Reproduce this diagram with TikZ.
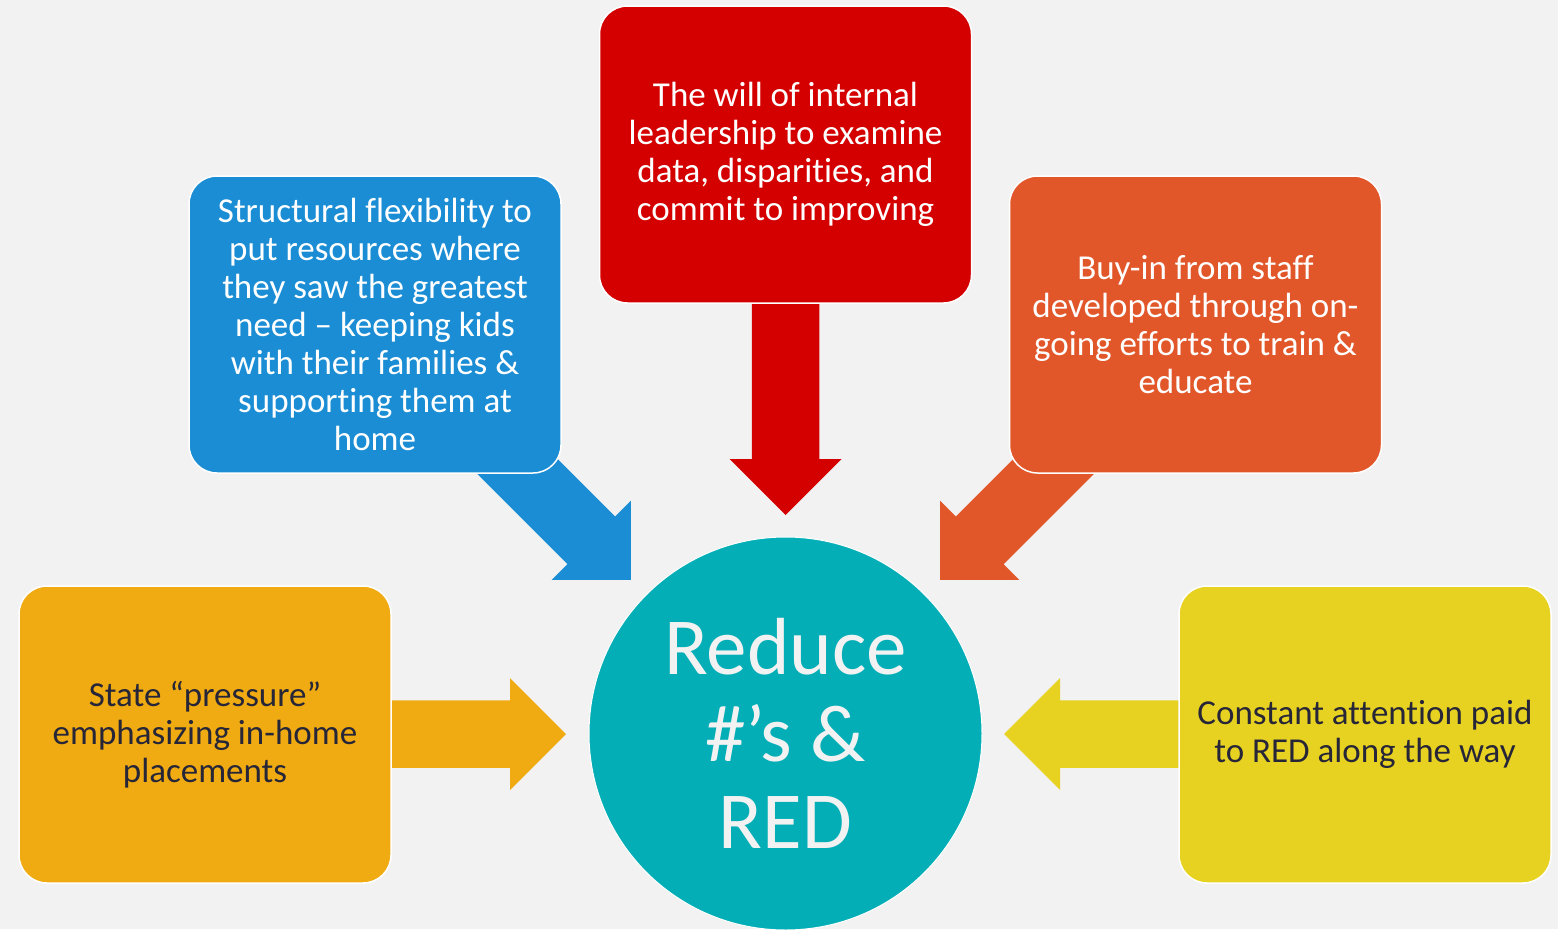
\documentclass[tikz,border=0pt]{standalone}
\usepackage{fontspec}
\setmainfont[Ligatures={NoCommon}]{Carlito}
\definecolor{bg}{HTML}{F2F2F2}
\definecolor{cred}{HTML}{D40000}
\definecolor{cblue}{HTML}{1B8DD4}
\definecolor{corange}{HTML}{E2572A}
\definecolor{cgold}{HTML}{F0AB12}
\definecolor{cyellow}{HTML}{E8D221}
\definecolor{cteal}{HTML}{03AEB6}
\definecolor{ctext}{HTML}{262638}
\begin{document}
\begin{tikzpicture}[x=1pt,y=-1pt,
  box/.style={rectangle, rounded corners=28pt, minimum width=372pt, minimum height=297pt,
    draw=white, line width=1.5pt, align=center, inner sep=0pt,
    font=\fontsize{35}{38}\selectfont, text=white},
  hub/.style={circle, minimum size=393pt, fill=cteal, draw=white, line width=1pt, inner sep=0pt,
    align=center, text=bg, font=\fontsize{81}{87}\selectfont},
  pics/blockarrow/.style={code={
    \fill (0,-33.75) -- ({#1-56},-33.75) -- ({#1-56},-56) -- (#1,0) -- ({#1-56},56) -- ({#1-56},33.75) -- (0,33.75) -- cycle;}}
]
\useasboundingbox (0,0) rectangle (1558,929);
\fill[bg] (0,0) rectangle (1558,929);

% arrows (drawn first, boxes overlay their tails)
\coordinate (tA) at (785.5,296);
\coordinate (tB) at (481,430);
\coordinate (tC) at (1090,430);
\coordinate (tD) at (385,734);
\coordinate (tE) at (1186,734);
\pic[rotate=-90, fill=cred] at (tA) {blockarrow=219};
\pic[rotate=-45, fill=cblue] at (tB) {blockarrow=212};
\pic[rotate=-135, fill=corange] at (tC) {blockarrow=212};
\pic[fill=cgold] at (tD) {blockarrow=181};
\pic[rotate=180, fill=cyellow] at (tE) {blockarrow=182};

\node[box, fill=cred] (top) at (785.5,154.5) {The will of internal\\leadership to examine\\data, disparities, and\\commit to improving};
\node[box, fill=cblue] (struct) at (375,324.5) {Structural flexibility to\\put resources where\\they saw the greatest\\need -- keeping kids\\with their families \&\\supporting them at\\home};
\node[box, fill=corange] (buyin) at (1195.5,324.5) {Buy-in from staff\\developed through on-\\going efforts to train \&\\educate};
\node[box, fill=cgold, text=ctext] (state) at (205,734.5) {State “pressure”\\emphasizing in-home\\placements};
\node[box, fill=cyellow, text=ctext] (const) at (1365,734.5) {Constant attention paid\\to RED along the way};

\node[hub] (hub) at (785.5,733.5) {Reduce\\\#’s \&\\RED};
\end{tikzpicture}
\end{document}
